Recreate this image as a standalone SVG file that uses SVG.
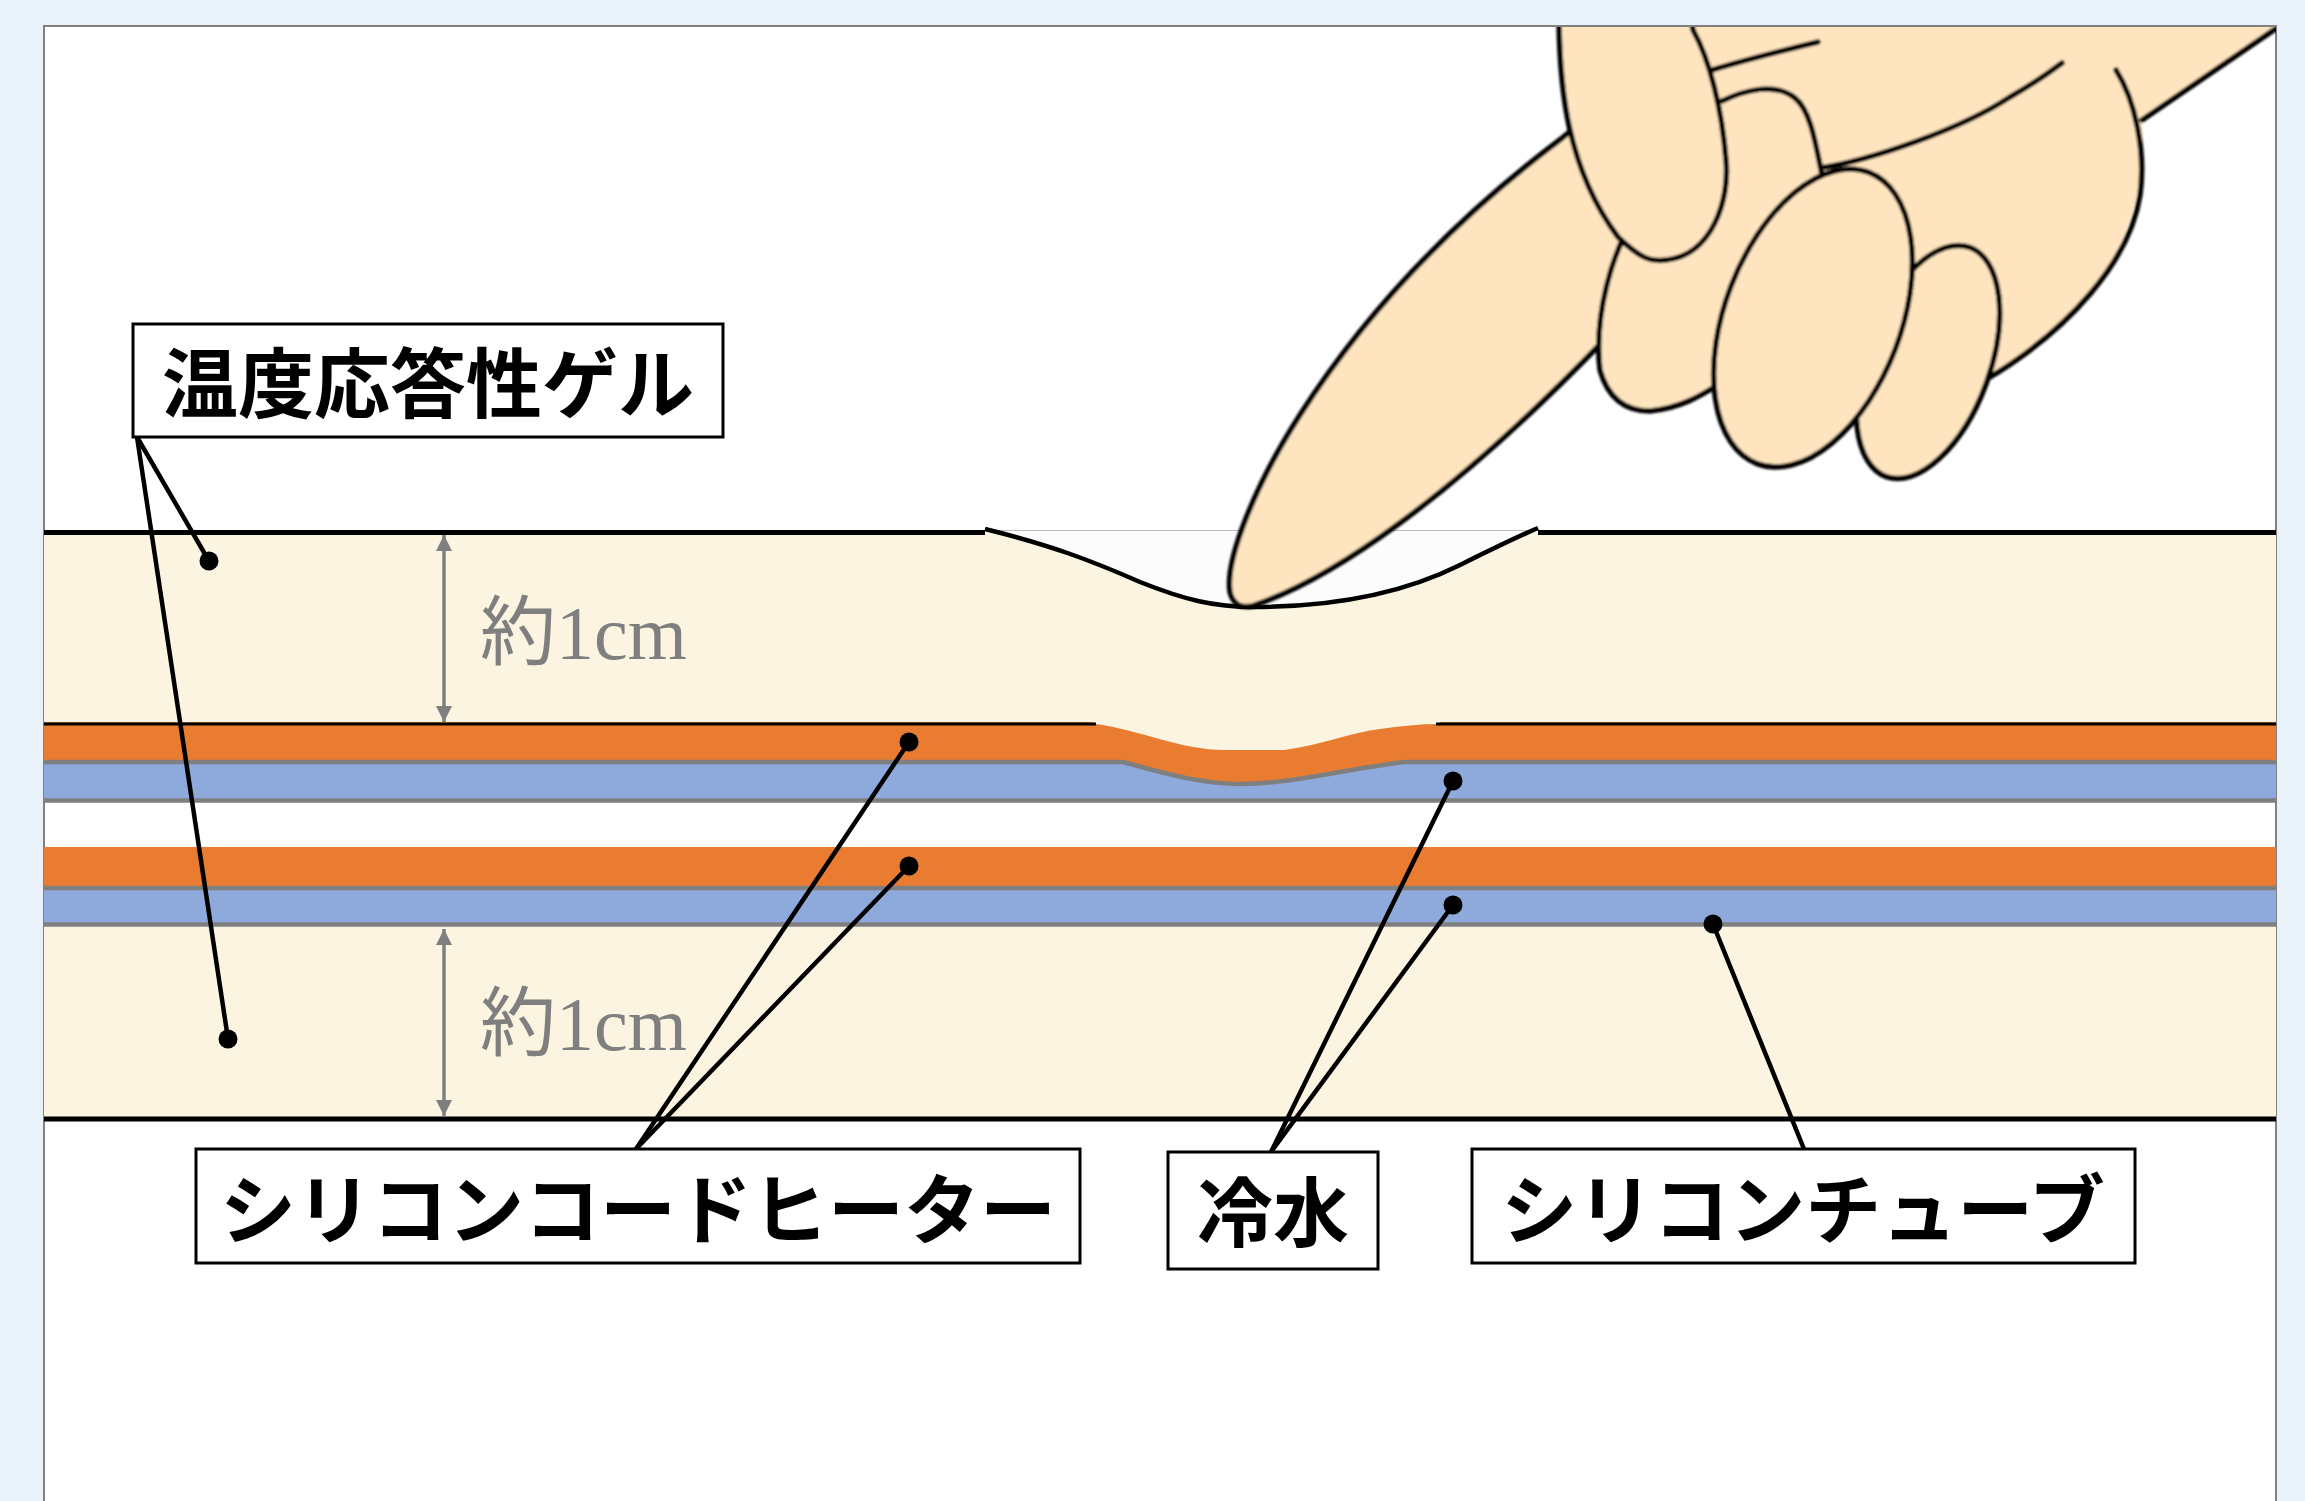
<svg xmlns="http://www.w3.org/2000/svg" width="2305" height="1501" viewBox="0 0 2305 1501">
  <style>
    .gel { fill: #FBF4E1; }
    .orange { fill: #E97C30; }
    .blue { fill: #8EA9DB; }
    .grayline { fill: none; stroke: #7F7F7F; stroke-width: 4.5; }
    .edge { fill: none; stroke: #000; }
    .skin { fill: #FFE5BF; stroke: none; }
    .hand { fill: #FFE5BF; stroke: #000; stroke-width: 5.5; stroke-linejoin: round; stroke-linecap: round; }
    .crease { fill: none; stroke: #000; stroke-width: 5.5; stroke-linecap: round; }
    .box { fill: #FFFFFF; stroke: #000; stroke-width: 3; }
    .label { font-family: "Noto Sans CJK JP", sans-serif; font-weight: 700; font-size: 76px; fill: #000; text-anchor: middle; }
    .dim { stroke: #7F7F7F; stroke-width: 3.5; fill: none; }
    .dimtext { font-family: "Liberation Serif", "Noto Sans CJK JP", serif; font-size: 76px; fill: #7F7F7F; }
    .lead { stroke: #000; stroke-width: 4.5; fill: none; stroke-linecap: round; }
    .dot { fill: #000; }
  </style>
  <defs>
    <marker id="dimhead" viewBox="0 0 10 10" refX="10" refY="5" markerUnits="userSpaceOnUse" markerWidth="17" markerHeight="16" orient="auto-start-reverse">
      <path d="M0,0 L10,5 L0,10 Z" fill="#7F7F7F"/>
    </marker>
    <clipPath id="panelclip">
      <rect x="44" y="27" width="2232" height="1480"/>
    </clipPath>
    <filter id="soft" x="-5%" y="-5%" width="110%" height="110%">
      <feGaussianBlur stdDeviation="0.9"/>
    </filter>
  </defs>

  <!-- page and drawing panel -->
  <rect x="0" y="0" width="2305" height="1501" fill="#E9F1F9"/>
  <rect x="44" y="26" width="2232" height="1490" fill="#FFFFFF" stroke="#808080" stroke-width="2"/>

  <!-- layered cross-section -->
  <g id="layers">
    <!-- upper gel -->
    <rect class="gel" x="44" y="532" width="2232" height="192"/>
    <!-- pressed-in dent of the gel surface -->
    <path d="M985,531 L985,529 C1050,545 1090,560 1140,582 C1185,600 1215,607 1253,607 C1330,607 1400,595 1460,565 C1490,550 1510,540 1538,528 L1538,531 Z" fill="#FCFCFD"/>
    <line x1="985" y1="530.5" x2="1538" y2="530.5" stroke="#BDBDBD" stroke-width="1.2"/>
    <path class="edge" stroke-width="5" d="M44,532.5 H985 M1538,532.5 H2276"/>
    <path class="edge" stroke-width="4.5" d="M985,529 C1050,545 1090,560 1140,582 C1185,600 1215,607 1253,607 C1330,607 1400,595 1460,565 C1490,550 1510,540 1538,528"/>

    <!-- upper tube: blue water channel, orange heater cord -->
    <rect class="blue" x="44" y="762" width="2232" height="38"/>
    <path class="orange" d="M44,722 H2276 V762 H1404 C1340,770 1290,784 1240,784 C1200,784 1160,772 1123,762 H44 Z"/>
    <path class="grayline" d="M44,762 H1123 C1160,772 1200,784 1240,784 C1290,784 1340,770 1404,762 H2276"/>
    <path class="grayline" d="M44,800.5 H2276"/>
    <path class="gel" d="M1090,721 L1096,724 C1140,730 1180,750 1225,750 L1285,750 C1320,745 1350,733 1380,729 C1400,726 1420,724 1440,724 L1440,721 Z"/>
    <path class="edge" stroke-width="3" d="M44,724 H1096 M1436,724 H2276"/>

    <!-- lower tube -->
    <rect class="orange" x="44" y="847" width="2232" height="41"/>
    <rect class="blue" x="44" y="888" width="2232" height="37"/>
    <path class="grayline" stroke-width="4" d="M44,888 H2276"/>
    <path class="grayline" d="M44,924.5 H2276"/>

    <!-- lower gel -->
    <rect class="gel" x="44" y="927" width="2232" height="190"/>
    <path class="edge" stroke-width="5" d="M44,1119 H2276"/>
  </g>

  <!-- thickness dimensions -->
  <g id="dimensions">
    <line class="dim" x1="444" y1="535" x2="444" y2="722" marker-start="url(#dimhead)" marker-end="url(#dimhead)"/>
    <line class="dim" x1="444" y1="929" x2="444" y2="1116" marker-start="url(#dimhead)" marker-end="url(#dimhead)"/>
    <text class="dimtext" x="480" y="659">約1cm</text>
    <text class="dimtext" x="480" y="1050">約1cm</text>
  </g>

  <!-- hand pressing on the gel -->
  <g id="hand" clip-path="url(#panelclip)">
    <g filter="url(#soft)">
      <!-- back of the hand, hidden edges tucked under the fingers -->
      <path class="skin" d="M1560,0 L2305,0 L2305,9 L2142,120 C2146,170 2135,230 2100,280 C2070,325 2030,355 1985,380 L1900,400 L1760,330 L1650,250 Z"/>
      <path class="crease" d="M2300,12 L2142,120"/>
      <path class="crease" d="M2116,70 C2135,100 2146,150 2140,195 C2130,260 2070,330 1985,380"/>
      <!-- index finger -->
      <path class="hand" d="M1620,90 L1561,139 C1480,200 1380,290 1300,415 C1255,485 1225,560 1230,592 C1233,605 1242,608 1252,606 C1330,580 1450,500 1606,338 L1680,260 Z"/>
      <!-- folded middle finger: filled body, outline only on the exposed side -->
      <path class="skin" d="M1640,210 C1610,250 1594,320 1600,370 C1608,398 1625,411 1650,411 C1680,408 1700,396 1716,386 L1745,330 L1700,200 Z"/>
      <path class="crease" d="M1640,210 C1610,250 1594,320 1600,370 C1608,398 1625,411 1650,411 C1680,408 1700,396 1716,386"/>
      <!-- thumb -->
      <path class="hand" d="M1559,0 C1558,90 1568,170 1618,237 C1640,258 1650,262 1666,260 C1712,255 1730,200 1726,160 C1722,110 1710,60 1693,30 L1688,0 Z"/>
      <path class="crease" d="M1712,70 C1745,60 1785,50 1818,42"/>
      <path class="crease" d="M1722,101 C1745,90 1775,82 1795,98 C1810,110 1815,140 1822,175"/>
      <path class="crease" d="M1821,168 C1870,160 1960,130 2010,97 C2035,83 2050,72 2062,63"/>
      <!-- little finger, then ring finger in front -->
      <ellipse class="hand" cx="1928" cy="362" rx="62" ry="122" transform="rotate(20 1928 362)"/>
      <ellipse class="hand" cx="1813" cy="318" rx="88" ry="156" transform="rotate(21 1813 318)"/>
    </g>
  </g>

  <!-- leader lines -->
  <g id="connectors">
    <line class="lead" x1="137" y1="437" x2="209" y2="561"/>
    <line class="lead" x1="137" y1="437" x2="228" y2="1039"/>
    <line class="lead" x1="636" y1="1149" x2="909" y2="742"/>
    <line class="lead" x1="636" y1="1149" x2="909" y2="866"/>
    <line class="lead" x1="1271" y1="1152" x2="1453" y2="781"/>
    <line class="lead" x1="1271" y1="1152" x2="1453" y2="905"/>
    <line class="lead" x1="1804" y1="1149" x2="1713" y2="924"/>
    <circle class="dot" cx="209" cy="561" r="9.5"/>
    <circle class="dot" cx="228" cy="1039" r="9.5"/>
    <circle class="dot" cx="909" cy="742" r="9.5"/>
    <circle class="dot" cx="909" cy="866" r="9.5"/>
    <circle class="dot" cx="1453" cy="781" r="9.5"/>
    <circle class="dot" cx="1453" cy="905" r="9.5"/>
    <circle class="dot" cx="1713" cy="924" r="9.5"/>
  </g>

  <!-- labels -->
  <g id="label-gel">
    <rect class="box" x="133" y="324" width="590" height="113"/>
    <text class="label" x="428" y="412">温度応答性ゲル</text>
  </g>
  <g id="label-heater">
    <rect class="box" x="196" y="1149" width="884" height="114"/>
    <text class="label" x="638" y="1238">シリコンコードヒーター</text>
  </g>
  <g id="label-water">
    <rect class="box" x="1168" y="1152" width="210" height="117"/>
    <text class="label" x="1273" y="1241">冷水</text>
  </g>
  <g id="label-tube">
    <rect class="box" x="1472" y="1149" width="663" height="114"/>
    <text class="label" x="1803" y="1238">シリコンチューブ</text>
  </g>
</svg>
